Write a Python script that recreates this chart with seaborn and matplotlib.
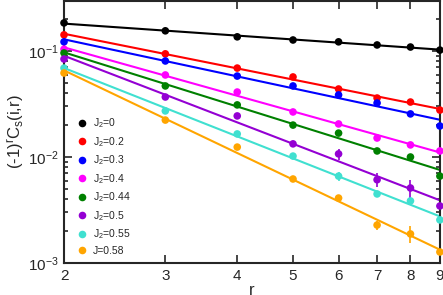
import numpy as np
import pandas as pd
import matplotlib
matplotlib.use('Agg')
import matplotlib.pyplot as plt
import matplotlib.ticker as mticker
import seaborn as sns

# distances
r = [2, 3, 4, 5, 6, 7, 8, 9]

labels = ['J$_2$=0', 'J$_2$=0.2', 'J$_2$=0.3', 'J$_2$=0.4',
          'J$_2$=0.44', 'J$_2$=0.5', 'J$_2$=0.55', 'J=0.58']
colors = ['black', 'red', 'blue', 'magenta', 'green', '#9400D3', '#40E0D0', 'orange']

c_j0 = [0.184, 0.155, 0.136, 0.127, 0.122, 0.114, 0.109, 0.102]
c_j02 = [0.142, 0.094, 0.069, 0.0569, 0.0438, 0.036, 0.033, 0.0277]
c_j03 = [0.122, 0.0805, 0.058, 0.0468, 0.0385, 0.0323, 0.0255, 0.0196]
c_j04 = [0.104, 0.0594, 0.041, 0.0266, 0.0205, 0.0151, 0.0130, 0.0114]
c_j044 = [0.0958, 0.0468, 0.031, 0.020, 0.0168, 0.0114, 0.0100, 0.0066]
c_j05 = [0.084, 0.0368, 0.0244, 0.0133, 0.0107, 0.0061, 0.0051, 0.00345]
c_j055 = [0.069, 0.0272, 0.0165, 0.0102, 0.0066, 0.00448, 0.00385, 0.00255]
c_j058 = [0.062, 0.0223, 0.0124, 0.0062, 0.0041, 0.00228, 0.00188, 0.00127]

# error bars (relative), only visible ones
err_j05 = [0, 0, 0, 0, 0.12, 0.15, 0.2, 0]
err_j055 = [0, 0, 0, 0, 0.1, 0, 0, 0]
err_j058 = [0, 0, 0, 0, 0, 0.1, 0.18, 0]

series = [c_j0, c_j02, c_j03, c_j04, c_j044, c_j05, c_j055, c_j058]
errs = [None] * 5 + [err_j05, err_j055, err_j058]

rows = []
for lab, vals in zip(labels, series):
    for x, v in zip(r, vals):
        rows.append({'r': x, 'C': v, 'J': lab})
df = pd.DataFrame(rows)

sns.set_style('ticks')
plt.rcParams['font.family'] = ['Liberation Sans', 'DejaVu Sans']
plt.rcParams['mathtext.fontset'] = 'custom'
plt.rcParams['mathtext.rm'] = 'Liberation Sans'
plt.rcParams['mathtext.it'] = 'Liberation Sans'

fig = plt.figure(figsize=(4.43, 2.95), dpi=100)
ax = fig.add_axes([0.1445, 0.1085, 0.8485, 0.888])

# power-law fit lines
xfit = np.linspace(2, 9, 50)
for lab, vals, col in zip(labels, series, colors):
    p = np.polyfit(np.log(r), np.log(vals), 1)
    fit = pd.DataFrame({'r': xfit, 'C': np.exp(np.polyval(p, np.log(xfit)))})
    sns.lineplot(data=fit, x='r', y='C', color=col, lw=1.5, ax=ax, legend=False)

sns.scatterplot(data=df, x='r', y='C', hue='J', palette=colors, s=30,
                edgecolor='none', ax=ax, zorder=3, clip_on=False)

for vals, e, col in zip(series, errs, colors):
    if e is None:
        continue
    v = np.array(vals)
    ax.errorbar(r, v, yerr=v * np.array(e), fmt='none', ecolor=col,
                elinewidth=1.2, capsize=0)

ax.set_xscale('log')
ax.set_yscale('log')
ax.set_xlim(2, 9)
ax.set_ylim(1e-3, 0.296)
ax.xaxis.set_major_locator(mticker.FixedLocator(r))
ax.xaxis.set_major_formatter(mticker.FixedFormatter([str(x) for x in r]))
ax.xaxis.set_minor_locator(mticker.NullLocator())
ax.yaxis.set_minor_locator(mticker.LogLocator(base=10, subs=np.arange(2, 10)))
ax.yaxis.set_minor_formatter(mticker.NullFormatter())

ax.tick_params(which='both', direction='in', top=True, right=True,
               labelsize=11, width=1.2)
ax.tick_params(which='major', length=6)
ax.tick_params(which='minor', length=3)
ax.tick_params(axis='x', pad=4)
for s in ax.spines.values():
    s.set_linewidth(1.5)

ax.set_xlabel('r', fontsize=12, labelpad=0)
ax.set_ylabel('(-1)$^{\\rm r}$C$_{\\rm s}$(i,r)', fontsize=12, labelpad=2)

handles, _ = ax.get_legend_handles_labels()
ax.legend(handles, labels, loc='lower left', frameon=False, fontsize=7.5,
          handletextpad=0.1, labelspacing=0.45, borderaxespad=0.3,
          markerscale=1.0, bbox_to_anchor=(0.0, 0.0))

fig.savefig('out.png', dpi=100)
